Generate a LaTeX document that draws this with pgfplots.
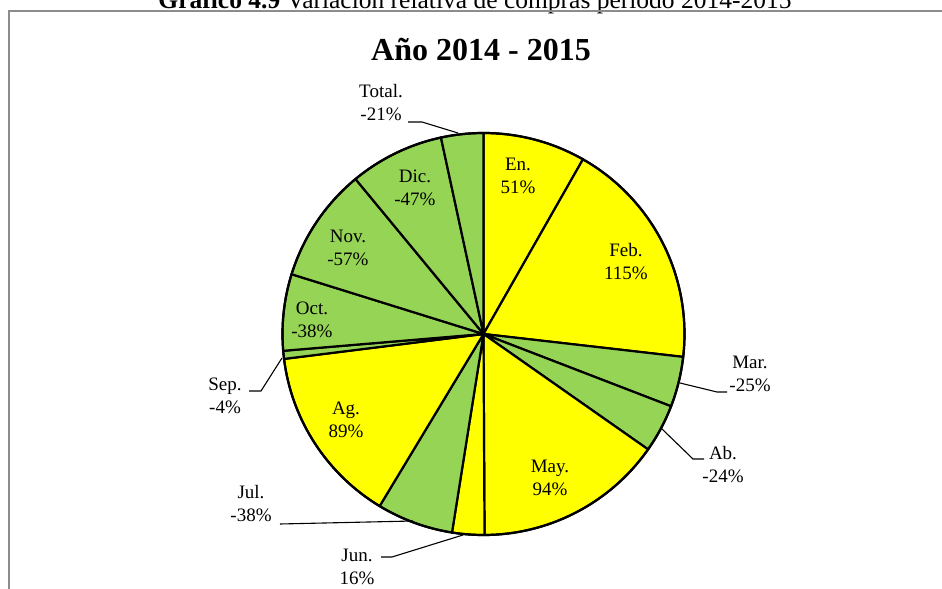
\documentclass[border=0pt]{standalone}
\usepackage{pgfplots}
\pgfplotsset{compat=1.18}
\usepackage{pgfplotstable}
\usepackage{fontspec}
\setmainfont{Liberation Serif}
\definecolor{pyellow}{RGB}{255,255,0}
\definecolor{pgreen}{RGB}{150,212,86}
\definecolor{bordergray}{RGB}{140,140,140}
\newcommand{\lbl}{\fontsize{19bp}{23bp}\selectfont}

% pct = relative change (%), lx/ly = label position in image pixels
\pgfplotstableread{
label pct lx ly
En. 51 518 176
Feb. 115 626 262
Mar. -25 750 374
Ab. -24 723 465
May. 94 550 478
Jun. 16 357 567
Jul. -38 251 504
Ag. 89 346 420
Sep. -4 225 396
Oct. -38 312 320
Nov. -57 348 248
Dic. -47 415 188
Total. -21 381 103
}\piedata

\begin{document}
\begin{tikzpicture}
\path[use as bounding box] (0,0) rectangle (942bp,589bp);
\clip (0,0) rectangle (942bp,589bp);
\pgfplotstablegetrowsof{\piedata}
\pgfmathtruncatemacro{\N}{\pgfplotsretval-1}
\def\total{0}
\pgfplotsforeachungrouped \i in {0,...,\N}{%
  \pgfplotstablegetelem{\i}{pct}\of\piedata
  \pgfmathsetmacro{\total}{\total+abs(\pgfplotsretval)}%
}
\begin{axis}[
  x=1bp, y=1bp, xmin=0, xmax=942, ymin=0, ymax=589,
  hide axis, clip=false, at={(0,0)}, anchor=origin,
]
\def\cum{0}
\pgfplotsforeachungrouped \i in {0,...,\N}{%
  \pgfplotstablegetelem{\i}{pct}\of\piedata \let\v\pgfplotsretval
  \pgfplotstablegetelem{\i}{label}\of\piedata \let\lab\pgfplotsretval
  \pgfplotstablegetelem{\i}{lx}\of\piedata \let\lx\pgfplotsretval
  \pgfplotstablegetelem{\i}{ly}\of\piedata \pgfmathsetmacro{\ly}{589-\pgfplotsretval}%
  \pgfmathsetmacro{\a}{90-360*(\cum/\total)}%
  \pgfmathsetmacro{\cum}{\cum+abs(\v)}%
  \pgfmathsetmacro{\b}{90-360*(\cum/\total)}%
  \ifdim\v pt<0pt \def\c{pgreen}\else\def\c{pyellow}\fi
  \edef\tmp{\noexpand\filldraw[fill=\c, draw=black, line width=2.2bp, line join=round]
     (axis cs:483.5,255) -- ++(\a:201bp) arc[start angle=\a, end angle=\b, radius=201bp] -- cycle;
     \noexpand\node[align=center, font=\noexpand\lbl, inner sep=0pt] at (axis cs:\lx,\ly) {\lab\noexpand\\\v\noexpand\%};}%
  \tmp
}
\draw[line width=2.2bp] (axis cs:483.5,255) circle[radius=201bp];
% leader lines
\draw[line width=1.1bp] (axis cs:408,467) -- (axis cs:422,467) -- (axis cs:458,456);
\draw[line width=1.1bp] (axis cs:680,206) -- (axis cs:717,197) -- (axis cs:727,197);
\draw[line width=1.1bp] (axis cs:662,160) -- (axis cs:693,130) -- (axis cs:704,130);
\draw[line width=1.1bp] (axis cs:381,32) -- (axis cs:392,32) -- (axis cs:463,54);
\draw[line width=1.1bp] (axis cs:280,65) -- (axis cs:413,68);
\draw[line width=1.1bp] (axis cs:249,198) -- (axis cs:261,198) -- (axis cs:282,231);
% titles and frame
\node[anchor=base, font=\bfseries\fontsize{32bp}{38bp}\selectfont] at (axis cs:481,528) {Año 2014 - 2015};
\node[anchor=base, font=\fontsize{25.5bp}{30bp}\selectfont] at (axis cs:475,580) {\textbf{Gráfico 4.9} Variación relativa de compras período 2014-2015};
\draw[bordergray, line width=2bp] (axis cs:9,-20) -- (axis cs:9,578) -- (axis cs:960,578);
\end{axis}
\end{tikzpicture}
\end{document}
